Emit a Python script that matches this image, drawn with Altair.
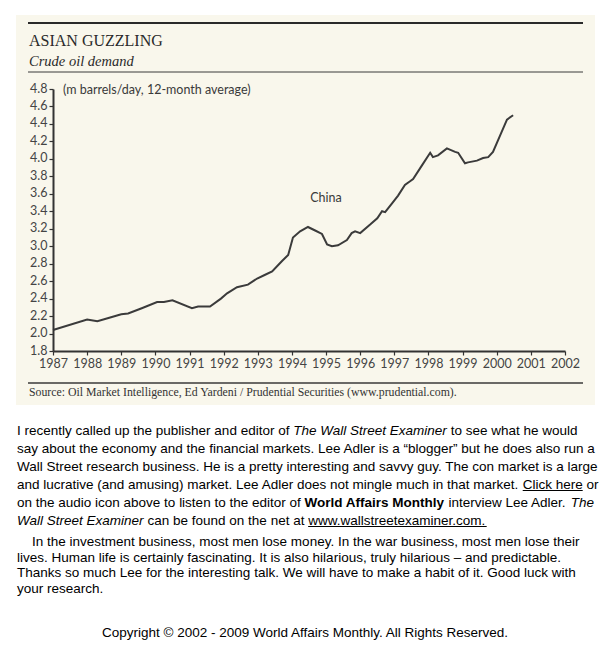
import altair as alt
import pandas as pd

# ---------------- data ----------------
years = [1987.0, 1988.0, 1988.3, 1988.65, 1989.0, 1989.2, 1989.6, 1990.05, 1990.25, 1990.5,
         1991.07, 1991.25, 1991.6, 1991.92, 1992.1, 1992.39, 1992.71, 1992.98, 1993.2, 1993.42,
         1993.71, 1993.89, 1994.03, 1994.24, 1994.47, 1994.68, 1994.88, 1995.03, 1995.17, 1995.35,
         1995.61, 1995.75, 1995.85, 1996.0, 1996.3, 1996.5, 1996.64, 1996.73, 1996.95, 1997.11,
         1997.31, 1997.45, 1997.55, 1997.8, 1998.05, 1998.13, 1998.28, 1998.54, 1998.78, 1998.87,
         1999.07, 1999.16, 1999.42, 1999.6, 1999.75, 1999.89, 2000.1, 2000.3, 2000.48]
demand = [2.04, 2.16, 2.14, 2.18, 2.22, 2.23, 2.29, 2.36, 2.36, 2.38,
          2.29, 2.31, 2.31, 2.40, 2.46, 2.53, 2.56, 2.63, 2.67, 2.71,
          2.83, 2.90, 3.10, 3.17, 3.22, 3.18, 3.14, 3.02, 3.00, 3.01,
          3.07, 3.15, 3.17, 3.15, 3.25, 3.32, 3.40, 3.39, 3.50, 3.58,
          3.70, 3.74, 3.77, 3.92, 4.07, 4.02, 4.04, 4.12, 4.08, 4.07,
          3.95, 3.96, 3.98, 4.01, 4.02, 4.08, 4.27, 4.45, 4.50]
x_ticks = list(range(1987, 2003))
y_ticks = [1.8, 2.0, 2.2, 2.4, 2.6, 2.8, 3.0, 3.2, 3.4, 3.6, 3.8, 4.0, 4.2, 4.4, 4.6, 4.8]

title_text = "ASIAN GUZZLING"
subtitle_text = "Crude oil demand"
unit_text = "(m barrels/day, 12-month average)"
series_label = "China"
source_text = "Source: Oil Market Intelligence, Ed Yardeni / Prudential Securities (www.prudential.com)."

para1 = [
    [("I recently called up the publisher and editor of ", "n"), ("The Wall Street Examiner", "i"), (" to see what he would", "n")],
    [("say about the economy and the financial markets. Lee Adler is a \u201cblogger\u201d but he does also run a", "n")],
    [("Wall Street research business. He is a pretty interesting and savvy guy. The con market is a large", "n")],
    [("and lucrative (and amusing) market. Lee Adler does not mingle much in that market. ", "n"), ("Click here", "u"), (" or", "n")],
    [("on the audio icon above to listen to the editor of ", "n"), ("World Affairs Monthly", "b"), (" interview Lee Adler. ", "n"), ("The", "i")],
    [("Wall Street Examiner", "i"), (" can be found on the net at ", "n"), ("www.wallstreetexaminer.com.", "u")],
]
para2 = [
    [("In the investment business, most men lose money. In the war business, most men lose their", "n")],
    [("lives. Human life is certainly fascinating. It is also hilarious, truly hilarious \u2013 and predictable.", "n")],
    [("Thanks so much Lee for the interesting talk. We will have to make a habit of it. Good luck with", "n")],
    [("your research.", "n")],
]
copyright_text = "Copyright \u00a9 2002 - 2009 World Affairs Monthly. All Rights Reserved."

# ---------------- layout helpers ----------------
X0, Y0 = 53, 89          # page position of the plot origin
W, H = 512, 262
PAD = {"left": 45, "top": 81, "right": 38, "bottom": 306}


def px(x):
    return x - X0


def py(y):
    return y - Y0


REG = {' ': 278, '!': 278, '"': 355, '(': 333, ')': 333, ',': 278, '-': 333, '.': 278, '/': 278,
       ':': 278, '\u201c': 333, '\u201d': 333, '\u2013': 556, '\u00a9': 737,
       'A': 667, 'B': 667, 'C': 722, 'D': 722, 'E': 667, 'F': 611, 'G': 778, 'H': 722, 'I': 278,
       'J': 500, 'K': 667, 'L': 556, 'M': 833, 'N': 722, 'O': 778, 'P': 667, 'Q': 778, 'R': 722,
       'S': 667, 'T': 611, 'U': 722, 'V': 667, 'W': 944, 'X': 667, 'Y': 667, 'Z': 611,
       'a': 556, 'b': 556, 'c': 500, 'd': 556, 'e': 556, 'f': 278, 'g': 556, 'h': 556, 'i': 222,
       'j': 222, 'k': 500, 'l': 222, 'm': 833, 'n': 556, 'o': 556, 'p': 556, 'q': 556, 'r': 333,
       's': 500, 't': 278, 'u': 556, 'v': 500, 'w': 722, 'x': 500, 'y': 500, 'z': 500}
BOLD = {' ': 278, 'A': 722, 'W': 944, 'M': 833, 'a': 556, 'd': 611, 'f': 333, 'h': 611, 'i': 278,
        'l': 278, 'n': 611, 'o': 611, 'r': 389, 's': 556, 't': 333, 'y': 556}

PSIZE = 13.5


def tw(s, bold=False, size=PSIZE):
    tot = 0
    for c in s:
        if bold:
            tot += BOLD.get(c, REG.get(c, 556))
        else:
            tot += REG.get(c, 556)
    return tot * size / 1000.0


one = alt.Data(values=[{"k": 0}])
layers = []


def add_text(s, x, y, font, size, color="#000", style="normal", weight="normal",
             align="left", baseline="alphabetic"):
    layers.append(
        alt.Chart(one).mark_text(text=s, font=font, fontSize=size, fontStyle=style,
                                 fontWeight=weight, color=color, align=align,
                                 baseline=baseline)
        .encode(x=alt.value(px(x)), y=alt.value(py(y)))
    )


def add_rule(x1, x2, y, color, width):
    layers.append(
        alt.Chart(one).mark_rule(color=color, strokeWidth=width)
        .encode(x=alt.value(px(x1)), x2=alt.value(px(x2)), y=alt.value(py(y)))
    )


# cream scanned background
layers.append(
    alt.Chart(one).mark_rect(color="#f9f7ec")
    .encode(x=alt.value(px(16)), x2=alt.value(px(595)), y=alt.value(py(15)), y2=alt.value(py(405)))
)

INK = "#2a2a2a"
add_rule(28, 583, 23, INK, 2)
add_text(title_text, 29, 46, "Liberation Serif", 16, INK)
add_text(subtitle_text, 29, 66, "Liberation Serif", 14.5, INK, style="italic")
add_rule(28, 583, 72, "#3a3a3a", 1)
add_text(unit_text, 63, 90, "Lato", 12.5, "#3a3a3a", baseline="middle")
add_text(series_label, 326, 198, "Lato", 12.5, "#3a3a3a", align="center", baseline="middle")
add_rule(28, 583, 383, "#3a3a3a", 1.3)
add_text(source_text, 29, 396, "Liberation Serif", 11.8, "#333")


def add_para(lines, first_y, step, left=17, first_indent=None):
    for li, segs in enumerate(lines):
        x = left if (li > 0 or first_indent is None) else first_indent
        yb = first_y + li * step
        for t, st in segs:
            bold = st == "b"
            lead = len(t) - len(t.lstrip())
            x += tw(t[:lead], bold)
            core = t.strip()
            add_text(core, x, yb, "Liberation Sans", PSIZE, "#000",
                     style="italic" if st == "i" else "normal",
                     weight="bold" if bold else "normal")
            if st == "u":
                add_rule(x, x + tw(core), yb + 1.5, "#000", 1)
            x += tw(t[lead:], bold)


add_para(para1, 435, 18)
add_para(para2, 546, 15.5, first_indent=32)
add_text(copyright_text, 305, 637, "Liberation Sans", PSIZE, "#000", align="center")

# ---------------- main line ----------------
df = pd.DataFrame({"year": years, "demand": demand})
line = alt.Chart(df).mark_line(color="#3b3b3b", strokeWidth=2).encode(
    x=alt.X("year:Q", scale=alt.Scale(domain=[1987, 2002], nice=False, zero=False),
            axis=alt.Axis(values=x_ticks, format="d", title=None, grid=False,
                          domainColor="#333", domainWidth=2, tickColor="#333", tickWidth=1.2,
                          tickSize=4, labelFont="Lato", labelFontSize=12.5, labelColor="#444",
                          labelPadding=2, labelFlush=False, labelOverlap=False, zindex=1)),
    y=alt.Y("demand:Q", scale=alt.Scale(domain=[1.8, 4.8], nice=False, zero=False),
            axis=alt.Axis(values=y_ticks, format=".1f", title=None, grid=False,
                          domainColor="#333", domainWidth=2, tickColor="#333", tickWidth=1.2,
                          tickSize=4, labelFont="Lato", labelFontSize=12.5, labelColor="#444",
                          labelPadding=2, labelOffset=-1, labelFlush=False, labelOverlap=False,
                          zindex=1)),
)
layers.append(line)

chart = alt.layer(*layers).properties(
    width=W, height=H, padding=PAD, autosize="none", background="white"
).configure_view(stroke=None)

chart.save("out.html", embed_options={"renderer": "svg", "actions": False})
